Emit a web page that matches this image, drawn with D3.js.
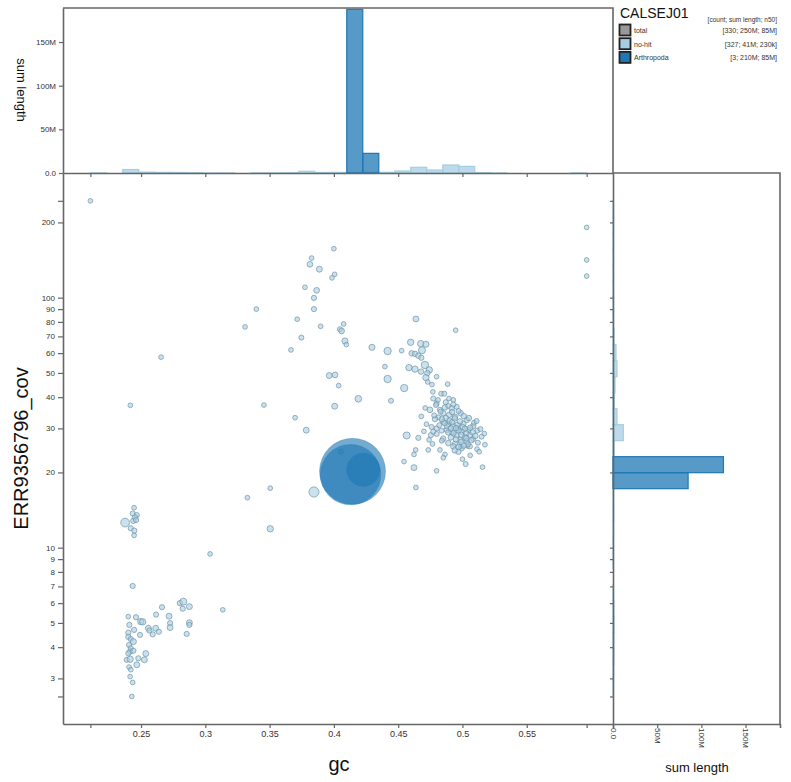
<!DOCTYPE html>
<html><head><meta charset="utf-8">
<script src="https://cdn.jsdelivr.net/npm/d3@7"></script>
<style>body{margin:0;background:#fff} svg{display:block}</style>
</head><body><svg id="c" width="791" height="782"></svg>
<script>
// ---------- DATA ----------
const assemblyName = "CALSEJ01";
const legendHeader = "[count; sum length; n50]";
const legendNames = ["total", "no-hit", "Arthropoda"];
const legendStats = ["[330; 250M; 85M]", "[327; 41M; 230k]", "[3; 210M; 85M]"];
const legendColors = ["#999999", "#a6cee3", "#1f78b4"];
const xLabel = "gc";
const yLabel = "ERR9356796_cov";
const histLabel = "sum length";

const gcTicks = [0.25, 0.3, 0.35, 0.4, 0.45, 0.5, 0.55];
const gcExtent = [0.2106, 0.5966];
const covTicks = [3, 4, 5, 6, 7, 8, 9, 10, 20, 30, 40, 50, 60, 70, 80, 90, 100, 200];
const covExtent = [2.54, 244];
const lenTicks = [0, 50e6, 100e6, 150e6];
const gcDomain = [0.1893, 0.6171];
const covDomain = [1.971, 315.3];
const lenMax = 189e6;

// histogram bins (values in M bp)
const gcBinStart = 0.2109, gcBinWidth = 0.012445;
const gcHistNoHit = [0.05,0,4.0,1.0,0.7,0.6,0.4,0.05,0.05,0,0.1,0.2,0.3,2.0,0.6,0.7,0.4,0.8,0.8,2.3,6.5,3.4,9.2,7.6,0.5,0.05,0,0,0,0,0.1];
const gcHistArthropoda = [0,0,0,0,0,0,0,0,0,0,0,0,0,0,0,0,187.5,22.5,0,0,0,0,0,0,0,0,0,0,0,0,0];
const covBinStartLog = 0.404, covBinWidthLog = 0.064;
const covHistNoHit = [0.2,0.6,0.9,0.9,1.0,0.8,0.1,0,0.05,0.1,0.5,0.7,0.6,0.4,0.3,1.1,11.7,4.5,1.5,2.3,4.5,3.4,1.1,0.4,0.3,0.1,0.1,0.1,0.2,0.1,0.05];
const covHistArthropoda = [0,0,0,0,0,0,0,0,0,0,0,0,0,85,125,0,0,0,0,0,0,0,0,0,0,0,0,0,0,0,0];

// points: [gc, coverage, length]
const arthropodaPoints = [[0.4145,20.2,102.5e6],[0.4130,19.6,85e6],[0.4228,20.5,22.5e6]];
const noHitPoints = [
[0.2106,244,15e3],[0.4000,157,15e3],[0.3827,144,15e3],[0.3814,136,80e3],[0.3887,130,100e3],[0.4006,124,15e3],
[0.3985,120,15e3],[0.3775,110,15e3],[0.3866,107,80e3],[0.3845,99.8,40e3],[0.3397,90,15e3],[0.3845,90,40e3],
[0.3715,82,15e3],[0.4076,78.5,15e3],[0.3897,76.8,15e3],[0.3309,76.4,15e3],[0.4047,74.8,30e3],[0.4060,73.6,80e3],
[0.3747,69.2,30e3],[0.4086,67.1,120e3],[0.4097,64.9,15e3],[0.3666,61.8,15e3],[0.2656,57.8,15e3],[0.3964,48.8,100e3],
[0.4009,49.1,80e3],[0.4037,44.5,15e3],[0.4190,39.4,200e3],[0.2417,37.1,15e3],[0.3456,37.2,15e3],[0.4006,36.8,100e3],
[0.3698,33.1,15e3],[0.3785,29.5,100e3],[0.4055,24.2,15e3],[0.5966,191,15e3],[0.5966,141.6,15e3],[0.5966,122,15e3],
[0.4638,82.2,100e3],[0.4947,74.1,15e3],[0.4296,63.3,120e3],[0.4418,61.2,300e3],[0.4527,61.4,15e3],[0.4597,66.3,150e3],
[0.4675,65.5,150e3],[0.4716,65.1,120e3],[0.4685,61.6,250e3],[0.4605,59.9,60e3],[0.4631,59.6,60e3],[0.4657,58.6,60e3],
[0.4680,57.5,40e3],[0.4584,52.5,150e3],[0.4631,51.8,150e3],[0.4708,53.8,300e3],[0.4742,51.4,150e3],[0.4678,50.6,60e3],
[0.4727,49.9,60e3],[0.4716,47.9,150e3],[0.4799,48.3,15e3],[0.4763,44.9,15e3],[0.4885,45.1,15e3],[0.4418,47.3,300e3],
[0.4547,43.5,300e3],[0.4397,53.0,15e3],[0.4444,38.7,30e3],[0.4835,41.3,30e3],[0.4859,41.3,30e3],[0.4773,39.5,30e3],
[0.4895,39.5,15e3],[0.4929,39.0,15e3],[0.4747,35.6,80e3],[0.4799,37.8,30e3],[0.4566,28.1,250e3],[0.4657,27.5,40e3],
[0.4754,28.2,40e3],[0.4767,26.0,15e3],[0.4825,24.6,15e3],[0.4636,24.6,15e3],[0.4623,23.6,15e3],[0.4864,23.6,15e3],
[0.4851,22.9,15e3],[0.4545,22.1,15e3],[0.5025,21.6,30e3],[0.5156,21.0,15e3],[0.4623,20.9,100e3],[0.5113,24.8,15e3],
[0.5175,25.8,15e3],[0.4988,25.4,15e3],[0.5041,25.5,15e3],[0.4799,20.3,15e3],[0.4638,17.4,15e3],
[0.4794,37.2,30e3],[0.4825,35.6,30e3],[0.4864,36.4,60e3],[0.4890,36.9,30e3],[0.4916,36.1,60e3],[0.4955,36.6,30e3],
[0.4986,34.5,60e3],[0.4851,34.5,60e3],[0.4812,33.2,30e3],[0.4786,32.7,60e3],[0.4897,34.0,60e3],[0.4942,33.4,60e3],
[0.5033,32.4,60e3],[0.5007,31.3,60e3],[0.4851,31.9,60e3],[0.4890,31.3,60e3],[0.4929,30.7,60e3],[0.4968,30.0,60e3],
[0.4994,29.1,60e3],[0.5045,29.6,60e3],[0.5084,30.7,60e3],[0.5116,29.4,30e3],[0.5058,28.2,60e3],[0.5019,27.8,60e3],
[0.4955,28.2,60e3],[0.4916,29.1,60e3],[0.4877,29.6,60e3],[0.4838,29.4,30e3],[0.4799,30.0,30e3],[0.4773,29.1,30e3],
[0.4981,27.0,60e3],[0.4942,26.0,60e3],[0.5033,26.6,60e3],[0.5084,27.2,30e3],[0.5149,27.8,30e3],[0.5058,25.4,30e3],
[0.4994,25.0,60e3],[0.4929,25.4,60e3],[0.4968,24.2,60e3],[0.4734,24.6,15e3],
[0.487,33.0,60e3],[0.490,32.2,60e3],[0.492,31.8,60e3],[0.494,32.9,60e3],[0.496,31.0,60e3],[0.498,32.0,60e3],
[0.500,30.4,60e3],[0.502,29.9,60e3],[0.497,29.4,60e3],[0.493,28.7,60e3],[0.489,28.9,60e3],[0.491,27.6,60e3],
[0.495,27.1,60e3],[0.499,26.5,60e3],[0.503,28.7,60e3],[0.506,30.2,60e3],[0.508,28.9,60e3],[0.510,28.0,60e3],
[0.507,26.9,60e3],[0.504,25.9,60e3],[0.501,25.6,60e3],[0.497,25.3,60e3],[0.494,24.5,60e3],[0.512,26.3,30e3],
[0.514,29.8,30e3],[0.488,30.6,60e3],[0.486,31.5,60e3],[0.484,32.6,60e3],[0.482,30.9,30e3],[0.480,28.5,30e3],
[0.485,27.3,60e3],[0.489,26.2,60e3],[0.492,34.9,60e3],[0.497,35.2,30e3],[0.501,33.6,60e3],[0.505,33.0,60e3],
[0.509,31.6,30e3],[0.511,32.1,30e3],[0.495,30.1,60e3],[0.499,28.3,60e3],[0.503,27.4,60e3],[0.491,30.0,60e3],
[0.483,35.0,30e3],[0.478,33.8,30e3],[0.487,38.2,30e3],[0.481,39.0,15e3],[0.493,37.4,30e3],[0.517,28.6,15e3],
[0.513,24.2,15e3],[0.506,23.4,15e3],[0.500,22.6,15e3],[0.484,26.8,30e3],[0.476,30.4,30e3],[0.472,31.2,15e3],
[0.474,27.0,15e3],[0.470,29.2,15e3],[0.468,33.5,15e3],[0.471,36.2,15e3],[0.477,42.0,15e3],[0.473,46.0,15e3],
[0.3327,15.85,15e3],[0.3505,17.3,15e3],[0.3845,16.7,1.0e6],[0.3505,11.9,150e3],[0.3037,9.44,15e3],[0.3136,5.64,15e3],
[0.2376,12.6,600e3],[0.2446,14.45,15e3],[0.2435,13.7,40e3],[0.2467,13.5,40e3],[0.2453,13.2,60e3],[0.2440,12.8,60e3],
[0.2461,12.9,40e3],[0.2420,11.96,40e3],[0.2448,11.7,40e3],[0.2446,11.2,15e3],[0.2435,7.03,40e3],[0.2401,5.30,15e3],
[0.2461,5.27,40e3],[0.2498,5.06,150e3],[0.2513,5.05,150e3],[0.2409,4.91,40e3],[0.2446,4.69,40e3],[0.2401,4.57,40e3],
[0.2492,4.48,40e3],[0.2401,4.40,40e3],[0.2420,4.31,40e3],[0.2440,4.21,120e3],[0.2407,4.08,40e3],[0.2420,3.96,40e3],
[0.2415,3.84,60e3],[0.2440,3.87,40e3],[0.2401,3.78,40e3],[0.2389,3.56,40e3],[0.2415,3.58,150e3],[0.2479,3.61,40e3],
[0.2526,3.56,100e3],[0.2467,3.40,100e3],[0.2407,3.33,15e3],[0.2420,3.25,15e3],[0.2415,3.05,15e3],[0.2435,2.89,15e3],
[0.2428,2.54,15e3],[0.2537,3.77,100e3],[0.2557,4.76,100e3],[0.2565,4.66,40e3],[0.2591,4.50,40e3],[0.2614,4.76,100e3],
[0.2638,4.61,40e3],[0.2617,5.40,40e3],[0.2663,5.78,40e3],[0.2718,5.32,100e3],[0.2726,4.99,40e3],[0.2726,4.79,100e3],
[0.2803,6.0,60e3],[0.2829,6.08,250e3],[0.2824,5.70,40e3],[0.2876,5.81,100e3],[0.2876,5.01,100e3],[0.2876,4.91,40e3],
[0.2855,4.52,40e3]
];

// ---------- LAYOUT ----------
const FONT = '"Liberation Sans", Arial, Helvetica, sans-serif';
const L = 63, R = 613, T = 173, B = 724, TOPH = 8, RIGHTH = 780;
const AX = "#666", TXT = "#333";
const svg = d3.select("#c").attr("font-family", FONT);

const x = d3.scaleLinear().domain(gcDomain).range([L, R]);
const y = d3.scaleLog().domain(covDomain).range([B, T]);
const yTop = d3.scaleLinear().domain([0, lenMax]).range([T, TOPH]);
const xRight = d3.scaleLinear().domain([0, lenMax]).range([R, RIGHTH]);
const r = d3.scaleSqrt().domain([0, d3.max(arthropodaPoints, d => d[2])]).range([2, 33]);

const lenFmt = d => d === 0 ? "0.0" : (d / 1e6) + "M";
const extentSet = new Set([...gcExtent, ...covExtent]);

function styleAxis(g, fs) {
  g.attr("font-family", FONT).attr("font-size", fs);
  g.select(".domain").attr("stroke", AX).attr("stroke-width", 1.6);
  g.selectAll(".tick line").attr("stroke", AX).attr("stroke-width", 1.2);
  g.selectAll(".tick text").attr("fill", TXT);
}

// ---------- HISTOGRAMS ----------
svg.append("clipPath").attr("id", "clipTop").append("rect")
  .attr("x", L).attr("y", TOPH).attr("width", R - L).attr("height", T - TOPH);
const gTop = svg.append("g").attr("clip-path", "url(#clipTop)");
[[gcHistNoHit, legendColors[1]], [gcHistArthropoda, legendColors[2]]].forEach(([vals, col]) => {
  gTop.append("g").selectAll("rect")
    .data(vals.map((v, i) => ({v: v * 1e6, x0: gcBinStart + i * gcBinWidth, x1: gcBinStart + (i + 1) * gcBinWidth})).filter(d => d.v > 0))
    .join("rect")
    .attr("x", d => x(d.x0)).attr("width", d => x(d.x1) - x(d.x0))
    .attr("y", d => yTop(d.v)).attr("height", d => yTop(0) - yTop(d.v))
    .attr("fill", col).attr("fill-opacity", 0.75).attr("stroke", col).attr("stroke-width", 1.2);
});

const gRight = svg.append("g");
[[covHistNoHit, legendColors[1]], [covHistArthropoda, legendColors[2]]].forEach(([vals, col]) => {
  gRight.append("g").selectAll("rect")
    .data(vals.map((v, i) => ({v: v * 1e6, y0: Math.pow(10, covBinStartLog + i * covBinWidthLog), y1: Math.pow(10, covBinStartLog + (i + 1) * covBinWidthLog)})).filter(d => d.v > 0))
    .join("rect")
    .attr("x", xRight(0)).attr("width", d => xRight(d.v) - xRight(0))
    .attr("y", d => y(d.y1)).attr("height", d => y(d.y0) - y(d.y1))
    .attr("fill", col).attr("fill-opacity", 0.75).attr("stroke", col).attr("stroke-width", 1.2);
});

// ---------- SCATTER ----------
const gPts = svg.append("g");
gPts.append("g").selectAll("circle").data(noHitPoints).join("circle")
  .attr("cx", d => x(d[0])).attr("cy", d => y(d[1])).attr("r", d => r(d[2]))
  .attr("fill", legendColors[1]).attr("fill-opacity", 0.6)
  .attr("stroke", "#6f8fa3").attr("stroke-opacity", 0.75).attr("stroke-width", 0.9);
gPts.append("g").selectAll("circle").data(arthropodaPoints).join("circle")
  .attr("cx", d => x(d[0])).attr("cy", d => y(d[1])).attr("r", d => r(d[2]))
  .attr("fill", legendColors[2]).attr("fill-opacity", 0.62)
  .attr("stroke", legendColors[2]).attr("stroke-opacity", 0.3).attr("stroke-width", 1);

// ---------- AXES ----------
const gcTickVals = [...gcExtent, ...gcTicks];
const covTickVals = [...covExtent, ...covTicks];

svg.append("g").attr("transform", `translate(0,${B})`)
  .call(d3.axisBottom(x).tickValues(gcTickVals).tickFormat(d => extentSet.has(d) ? "" : String(d)).tickSize(4).tickPadding(3).tickSizeOuter(0))
  .call(g => styleAxis(g, 9));
svg.append("g").attr("transform", `translate(${L},0)`)
  .call(d3.axisLeft(y).tickValues(covTickVals).tickFormat(d => extentSet.has(d) ? "" : String(d)).tickSize(5).tickPadding(3).tickSizeOuter(0))
  .call(g => styleAxis(g, 8));

// top histogram axes
svg.append("g").attr("transform", `translate(0,${T})`)
  .call(d3.axisBottom(x).tickValues(gcTickVals).tickFormat("").tickSize(4).tickSizeOuter(0))
  .call(g => styleAxis(g, 8));
svg.append("g").attr("transform", `translate(${L},0)`)
  .call(d3.axisLeft(yTop).tickValues(lenTicks).tickFormat(lenFmt).tickSize(4).tickPadding(3).tickSizeOuter(0))
  .call(g => styleAxis(g, 8));

// right histogram axes
svg.append("g").attr("transform", `translate(${R},0)`)
  .call(d3.axisLeft(y).tickValues(covTickVals).tickFormat("").tickSize(3).tickSizeOuter(0))
  .call(g => styleAxis(g, 8));
const gRx = svg.append("g").attr("transform", `translate(0,${B})`)
  .call(d3.axisBottom(xRight).tickValues(lenTicks).tickFormat(lenFmt).tickSize(4).tickSizeOuter(4))
  .call(g => styleAxis(g, 8));
gRx.selectAll(".tick text")
  .attr("text-anchor", "start").attr("y", 0).attr("dy", "0.35em")
  .attr("transform", "translate(0,4) rotate(90)");

// frames
const frame = svg.append("g").attr("stroke", AX).attr("stroke-width", 1.6).attr("fill", "none");
frame.append("path").attr("d", `M${L},${TOPH}H${R}V${T}`);
frame.append("path").attr("d", `M${R},${T}H${RIGHTH}V${B}`);

// ---------- AXIS TITLES ----------
svg.append("text").attr("x", 339).attr("y", 771).attr("text-anchor", "middle")
  .attr("font-size", 20).attr("fill", "#111").text(xLabel);
svg.append("text").attr("transform", `translate(28,${(T + B) / 2}) rotate(-90)`).attr("text-anchor", "middle")
  .attr("font-size", 20).attr("fill", "#111").text(yLabel);
svg.append("text").attr("transform", `translate(16.5,90) rotate(90)`).attr("text-anchor", "middle")
  .attr("font-size", 13).attr("fill", "#111").text(histLabel);
svg.append("text").attr("x", 697).attr("y", 772).attr("text-anchor", "middle")
  .attr("font-size", 13).attr("fill", "#111").text(histLabel);

// ---------- LEGEND ----------
const lg = svg.append("g");
lg.append("text").attr("x", 620).attr("y", 18).attr("font-size", 14).attr("fill", "#111").text(assemblyName);
lg.append("text").attr("x", 777).attr("y", 22).attr("text-anchor", "end").attr("font-size", 6.5).attr("fill", "#333").text(legendHeader);
legendNames.forEach((name, i) => {
  const yy = 24.5 + i * 13.7;
  lg.append("rect").attr("x", 619.5).attr("y", yy).attr("width", 11).attr("height", 11)
    .attr("fill", legendColors[i]).attr("stroke", "#222").attr("stroke-width", 1.8);
  lg.append("text").attr("x", 634).attr("y", yy + 8.5).attr("font-size", 7).attr("fill", "#333").text(name);
  lg.append("text").attr("x", 777).attr("y", yy + 8.5).attr("text-anchor", "end").attr("font-size", 7).attr("fill", "#333").text(legendStats[i]);
});
</script></body></html>
